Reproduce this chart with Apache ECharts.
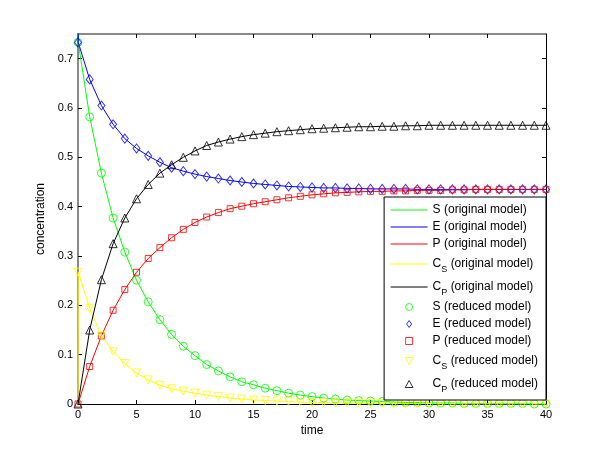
<!DOCTYPE html>
<html><head><meta charset="utf-8">
<script src="https://cdn.jsdelivr.net/npm/echarts@6/dist/echarts.min.js"></script>
<style>html,body{margin:0;padding:0;background:#fff}#c{width:600px;height:455px}</style>
</head><body><div id="c"></div>
<script>
const xTicks = [0, 5, 10, 15, 20, 25, 30, 35, 40];
const yTicks = [0, 0.1, 0.2, 0.3, 0.4, 0.5, 0.6, 0.7];

// reduced model, sampled at integer times
const time = [0,1,2,3,4,5,6,7,8,9,10,11,12,13,14,15,16,17,18,19,20,21,22,23,24,25,26,27,28,29,30,31,32,33,34,35,36,37,38,39,40];
const sReduced  = [0.733,0.582,0.468,0.377,0.308,0.251,0.207,0.171,0.141,0.117,0.098,0.080,0.067,0.055,0.045,0.039,0.032,0.027,0.022,0.018,0.015,0.012,0.010,0.008,0.007,0.006,0.005,0.004,0.003,0.003,0.002,0.002,0.002,0.001,0.001,0.001,0.001,0.001,0.001,0.000,0.000];
const eReduced  = [0.733,0.658,0.605,0.567,0.538,0.518,0.503,0.490,0.479,0.472,0.466,0.461,0.457,0.453,0.450,0.447,0.445,0.443,0.441,0.440,0.439,0.438,0.438,0.437,0.437,0.436,0.436,0.436,0.436,0.435,0.435,0.435,0.435,0.435,0.435,0.435,0.435,0.435,0.435,0.435,0.435];
const pReduced  = [0.000,0.076,0.138,0.190,0.232,0.267,0.295,0.317,0.337,0.354,0.368,0.379,0.388,0.396,0.401,0.406,0.410,0.414,0.418,0.421,0.424,0.426,0.428,0.429,0.430,0.431,0.431,0.432,0.432,0.433,0.433,0.433,0.434,0.434,0.435,0.435,0.435,0.435,0.435,0.435,0.435];
const csReduced = [0.267,0.194,0.138,0.106,0.082,0.063,0.049,0.038,0.031,0.026,0.022,0.018,0.015,0.012,0.010,0.008,0.007,0.006,0.005,0.004,0.003,0.003,0.002,0.002,0.002,0.001,0.001,0.001,0.001,0.001,0.001,0.000,0.000,0.000,0.000,0.000,0.000,0.000,0.000,0.000,0.000];
const cpReduced = [0.000,0.150,0.252,0.325,0.377,0.416,0.445,0.468,0.485,0.500,0.513,0.524,0.531,0.537,0.542,0.546,0.549,0.552,0.554,0.556,0.558,0.559,0.560,0.561,0.562,0.562,0.563,0.563,0.564,0.564,0.565,0.565,0.565,0.565,0.565,0.565,0.565,0.565,0.565,0.565,0.565];

// original model (includes the fast initial transient)
const origTime = [0,0.02,1,2,3,4,5,6,7,8,9,10,11,12,13,14,15,16,17,18,19,20,21,22,23,24,25,26,27,28,29,30,31,32,33,34,35,36,37,38,39,40];
const sOriginal  = [1.000,0.733,0.582,0.468,0.377,0.308,0.251,0.207,0.171,0.141,0.117,0.098,0.080,0.067,0.055,0.045,0.039,0.032,0.027,0.022,0.018,0.015,0.012,0.010,0.008,0.007,0.006,0.005,0.004,0.003,0.003,0.002,0.002,0.002,0.001,0.001,0.001,0.001,0.001,0.001,0.000,0.000];
const eOriginal  = [1.000,0.733,0.658,0.605,0.567,0.538,0.518,0.503,0.490,0.479,0.472,0.466,0.461,0.457,0.453,0.450,0.447,0.445,0.443,0.441,0.440,0.439,0.438,0.438,0.437,0.437,0.436,0.436,0.436,0.436,0.435,0.435,0.435,0.435,0.435,0.435,0.435,0.435,0.435,0.435,0.435,0.435];
const pOriginal  = [0.000,0.000,0.076,0.138,0.190,0.232,0.267,0.295,0.317,0.337,0.354,0.368,0.379,0.388,0.396,0.401,0.406,0.410,0.414,0.418,0.421,0.424,0.426,0.428,0.429,0.430,0.431,0.431,0.432,0.432,0.433,0.433,0.433,0.434,0.434,0.435,0.435,0.435,0.435,0.435,0.435,0.435];
const csOriginal = [0.000,0.267,0.194,0.138,0.106,0.082,0.063,0.049,0.038,0.031,0.026,0.022,0.018,0.015,0.012,0.010,0.008,0.007,0.006,0.005,0.004,0.003,0.003,0.002,0.002,0.002,0.001,0.001,0.001,0.001,0.001,0.001,0.000,0.000,0.000,0.000,0.000,0.000,0.000,0.000,0.000,0.000];
const cpOriginal = [0.000,0.000,0.150,0.252,0.325,0.377,0.416,0.445,0.468,0.485,0.500,0.513,0.524,0.531,0.537,0.542,0.546,0.549,0.552,0.554,0.556,0.558,0.559,0.560,0.561,0.562,0.562,0.563,0.563,0.564,0.564,0.565,0.565,0.565,0.565,0.565,0.565,0.565,0.565,0.565,0.565,0.565];

const FONT = 'Liberation Sans';
const zip = (xs, ys) => xs.map((x, i) => [x, ys[i]]);
const HOLLOW = 'rgba(0,0,0,0)';

function origSeries(name, vals, color) {
  return { name, type: 'line', data: zip(origTime, vals), symbol: 'none', showSymbol: false,
    lineStyle: { color, width: 1 }, itemStyle: { color }, animation: false, z: 2 };
}
function redSeries(name, vals, color, symbol, size, rotate) {
  return { name, type: 'scatter', data: zip(time, vals), symbol, symbolSize: size, symbolRotate: rotate || 0,
    itemStyle: { color: HOLLOW, borderColor: color, borderWidth: 1 }, animation: false, z: 3 };
}

const names = ['S (original model)','E (original model)','P (original model)','C_S (original model)','C_P (original model)',
               'S (reduced model)','E (reduced model)','P (reduced model)','C_S (reduced model)','C_P (reduced model)'];
const colors = ['#00ff00','#0000ff','#ff0000','#ffff00','#000000'];
const legendIcons = ['circle',
  'path://M5,0 L10,7 L5,14 L0,7 Z',
  'path://M0,0 L10,0 L10,10 L0,10 Z',
  'path://M0,0 L10,0 L5,9 Z',
  'path://M5,0 L10,9 L0,9 Z'];

const legendData = names.map((n, i) => i < 5
  ? { name: n, itemStyle: { color: HOLLOW, borderColor: HOLLOW, borderWidth: 0 },
      lineStyle: { color: colors[i], width: 1 } }
  : { name: n, icon: legendIcons[i - 5], symbolKeepAspect: true,
      itemStyle: { color: HOLLOW, borderColor: colors[i - 5], borderWidth: 1 } });

function axis(extra, tickVals, lineColor, lineWidth) {
  return Object.assign({
    axisLine: { show: true, onZero: false, lineStyle: { color: lineColor, width: lineWidth } },
    axisTick: { show: true, inside: true, length: 4, customValues: tickVals, lineStyle: { color: '#000' } },
    splitLine: { show: false }
  }, extra);
}

const chart = echarts.init(document.getElementById('c'), null, { renderer: 'canvas' });
chart.setOption({
  animation: false,
  backgroundColor: '#fff',
  grid: { left: 78, right: 54, top: 34, bottom: 51, containLabel: false },
  xAxis: [
    axis({ type: 'value', min: 0, max: 40, interval: 5, position: 'bottom',
      name: 'time', nameLocation: 'middle', nameGap: 20,
      nameTextStyle: { color: '#000', fontSize: 12, fontFamily: FONT },
      axisLabel: { color: '#000', fontSize: 11, fontFamily: FONT, margin: 5, customValues: xTicks } }, xTicks, '#000', 1),
    axis({ type: 'value', min: 0, max: 40, interval: 5, position: 'top',
      axisLabel: { show: false } }, xTicks, '#8a8a8a', 2)
  ],
  yAxis: [
    axis({ type: 'value', min: 0, max: 0.75, position: 'left',
      name: 'concentration', nameLocation: 'middle', nameGap: 21,
      nameTextStyle: { color: '#000', fontSize: 12, fontFamily: FONT },
      axisLabel: { color: '#000', fontSize: 11, fontFamily: FONT, margin: 5, customValues: yTicks,
        formatter: v => v === 0 ? '0' : v.toFixed(1) } }, yTicks, '#8a8a8a', 2),
    axis({ type: 'value', min: 0, max: 0.75, position: 'right',
      axisLabel: { show: false } }, yTicks, '#000', 1)
  ],
  legend: {
    orient: 'vertical', right: 54, top: 197,
    backgroundColor: '#fff', borderColor: '#000', borderWidth: 1, borderRadius: 0,
    padding: [6, 8, 6, 6], itemWidth: 37, itemHeight: 7, itemGap: 3, symbolKeepAspect: true,
    lineStyle: { width: 1 },
    textStyle: { fontSize: 12, fontFamily: FONT, color: '#000', lineHeight: 14,
      rich: { sub: { fontSize: 9, fontFamily: FONT, color: '#000', lineHeight: 20, verticalAlign: 'bottom' } } },
    formatter: n => n.replace('C_S', 'C{sub|S}').replace('C_P', 'C{sub|P}'),
    data: legendData
  },
  series: [
    origSeries(names[0], sOriginal, colors[0]),
    origSeries(names[1], eOriginal, colors[1]),
    origSeries(names[2], pOriginal, colors[2]),
    origSeries(names[3], csOriginal, colors[3]),
    origSeries(names[4], cpOriginal, colors[4]),
    redSeries(names[5], sReduced, colors[0], 'circle', 8),
    redSeries(names[6], eReduced, colors[1], 'diamond', [7, 9]),
    redSeries(names[7], pReduced, colors[2], 'rect', 6),
    redSeries(names[8], csReduced, colors[3], 'triangle', 8, 180),
    redSeries(names[9], cpReduced, colors[4], 'triangle', 8)
  ]
});
</script>
</body></html>
